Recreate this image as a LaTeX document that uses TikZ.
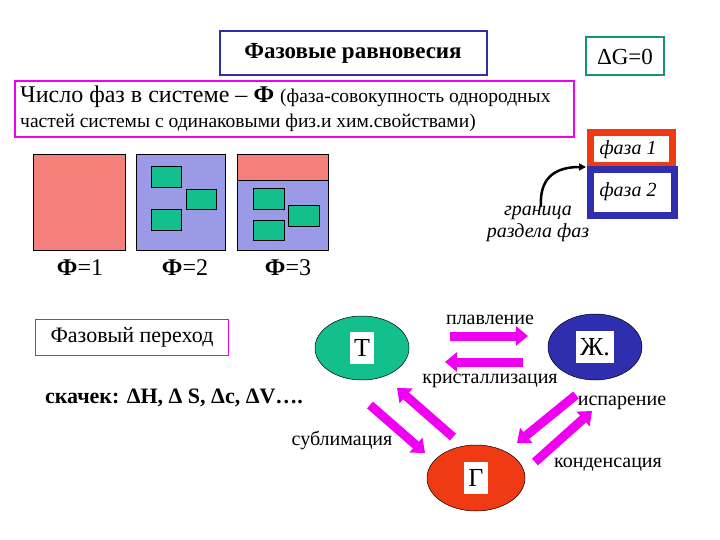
\documentclass[tikz,border=0pt]{standalone}
\usepackage{fontspec}
\setmainfont{Liberation Serif}
\usetikzlibrary{arrows.meta,shapes.geometric}
\definecolor{salm}{HTML}{F57F7A}
\definecolor{lav}{HTML}{9A9AE6}
\definecolor{grn}{HTML}{14BF8E}
\definecolor{mag}{HTML}{F000F0}
\definecolor{dblue}{HTML}{2E2EAE}
\definecolor{redo}{HTML}{F03A14}
\definecolor{teal2}{HTML}{119477}
\tikzset{
  sq/.style={draw=black,line width=0.5pt,fill=grn},
  blk/.style={line width=9pt,mag,-{Triangle[width=19pt,length=12pt]}},
  lbl/.style={font=\fontsize{20}{22}\selectfont,inner sep=0pt},
  ell/.style={draw=black,ellipse,line width=0.5pt},
  letter/.style={fill=white,font=\fontsize{26}{28}\selectfont,inner sep=4pt,minimum height=32pt},
}
\begin{document}
\begin{tikzpicture}[x=1pt,y=-1pt]
\useasboundingbox[fill=white] (0,0) rectangle (720,540);
% title
\draw[dblue,line width=2pt] (220,31) rectangle (487,75);
\node[font=\bfseries\fontsize{23}{25}\selectfont] (title) at (353,53) {Фазовые равновесия};
\draw[teal2,line width=2pt] (586,37) rectangle (664,75);
\node[font=\fontsize{23}{25}\selectfont] (dg) at (625,57) {ΔG=0};
% definition box
\draw[mag,line width=2pt] (15,81) rectangle (574,137);
\node[anchor=west,inner sep=0pt] (def1) at (20,97) {\fontsize{24}{26}\selectfont Число фаз в системе – \textbf{Ф} \fontsize{19.5}{21}\selectfont(фаза-совокупность однородных};
\node[anchor=west,inner sep=0pt] (def2) at (20,123) {\fontsize{19.5}{21}\selectfont частей системы с одинаковыми физ.и хим.свойствами)};
% three boxes
\draw[fill=salm,line width=0.5pt] (33,154) rectangle (125,250);
\draw[fill=lav,line width=0.5pt] (136,154) rectangle (225,250);
\draw[fill=lav,line width=0.5pt] (237,154) rectangle (328,250);
\draw[fill=salm,line width=0.5pt] (237,154) rectangle (328,180);
\draw[sq] (151,166) rectangle (181,187);
\draw[sq] (186,189) rectangle (216,209);
\draw[sq] (151,209) rectangle (181,230);
\draw[sq] (253,188) rectangle (284,209);
\draw[sq] (288,205) rectangle (319,226);
\draw[sq] (253,220) rectangle (284,240);
\node[font=\fontsize{24}{26}\selectfont] (f1) at (80,268) {\textbf{Ф}=1};
\node[font=\fontsize{24}{26}\selectfont] (f2) at (185,268) {\textbf{Ф}=2};
\node[font=\fontsize{24}{26}\selectfont] (f3) at (288,268) {\textbf{Ф}=3};
% phases
\draw[redo,line width=7pt] (590,133) rectangle (672,166);
\node[font=\itshape\fontsize{20}{22}\selectfont] (ph1) at (628,150) {фаза 1};
\draw[dblue,line width=7pt] (590,170) rectangle (674,216);
\node[font=\itshape\fontsize{20}{22}\selectfont] (ph2) at (628,192) {фаза 2};
\coordinate (bd) at (586,167);
\node[font=\itshape\fontsize{20}{22}\selectfont,align=center] (gr) at (538,224) {граница\\раздела фаз};
\draw[line width=2.5pt,-{Triangle[width=7pt,length=7pt]}] (541,207) .. controls (539,178) and (555,167) .. (bd);
% transition
\draw[mag,line width=1pt] (35,319) rectangle (228,355);
\node[font=\fontsize{22}{24}\selectfont] (fp) at (132,337) {Фазовый переход};
\node[font=\bfseries\fontsize{22}{24}\selectfont] (jump) at (174,398) {скачек: ΔH, Δ S, Δc, ΔV….};
% ellipses
\node[ell,fill=grn,minimum width=94pt,minimum height=64pt] (T) at (362,348) {};
\node[letter] at (T) {Т};
\node[ell,fill=dblue,minimum width=94pt,minimum height=66pt] (L) at (595,347) {};
\node[letter] at (L) {Ж.};
\node[ell,fill=redo,minimum width=98pt,minimum height=66pt] (G) at (476,478) {};
\node[letter] at (G) {Г};
% arrows
\coordinate (a1) at (450,336); \coordinate (a2) at (528,336);
\draw[blk] (a1) -- (a2);
\coordinate (b1) at (523,362); \coordinate (b2) at (445,362);
\draw[blk] (b1) -- (b2);
\coordinate (c1) at (370,405); \coordinate (c2) at (425,453);
\draw[blk] (c1) -- (c2);
\coordinate (d1) at (453,437); \coordinate (d2) at (397,388);
\draw[blk] (d1) -- (d2);
\coordinate (e1) at (576,395); \coordinate (e2) at (517,443);
\draw[blk] (e1) -- (e2);
\coordinate (g1) at (535,462); \coordinate (g2) at (592,411);
\draw[blk] (g1) -- (g2);
\node[lbl] (pl) at (490,320) {плавление};
\node[lbl] (kr) at (490,381) {кристаллизация};
\node[lbl] (isp) at (622,403) {испарение};
\node[lbl] (sub) at (342,440) {сублимация};
\node[lbl] (kon) at (608,465) {конденсация};
\end{tikzpicture}
\end{document}
